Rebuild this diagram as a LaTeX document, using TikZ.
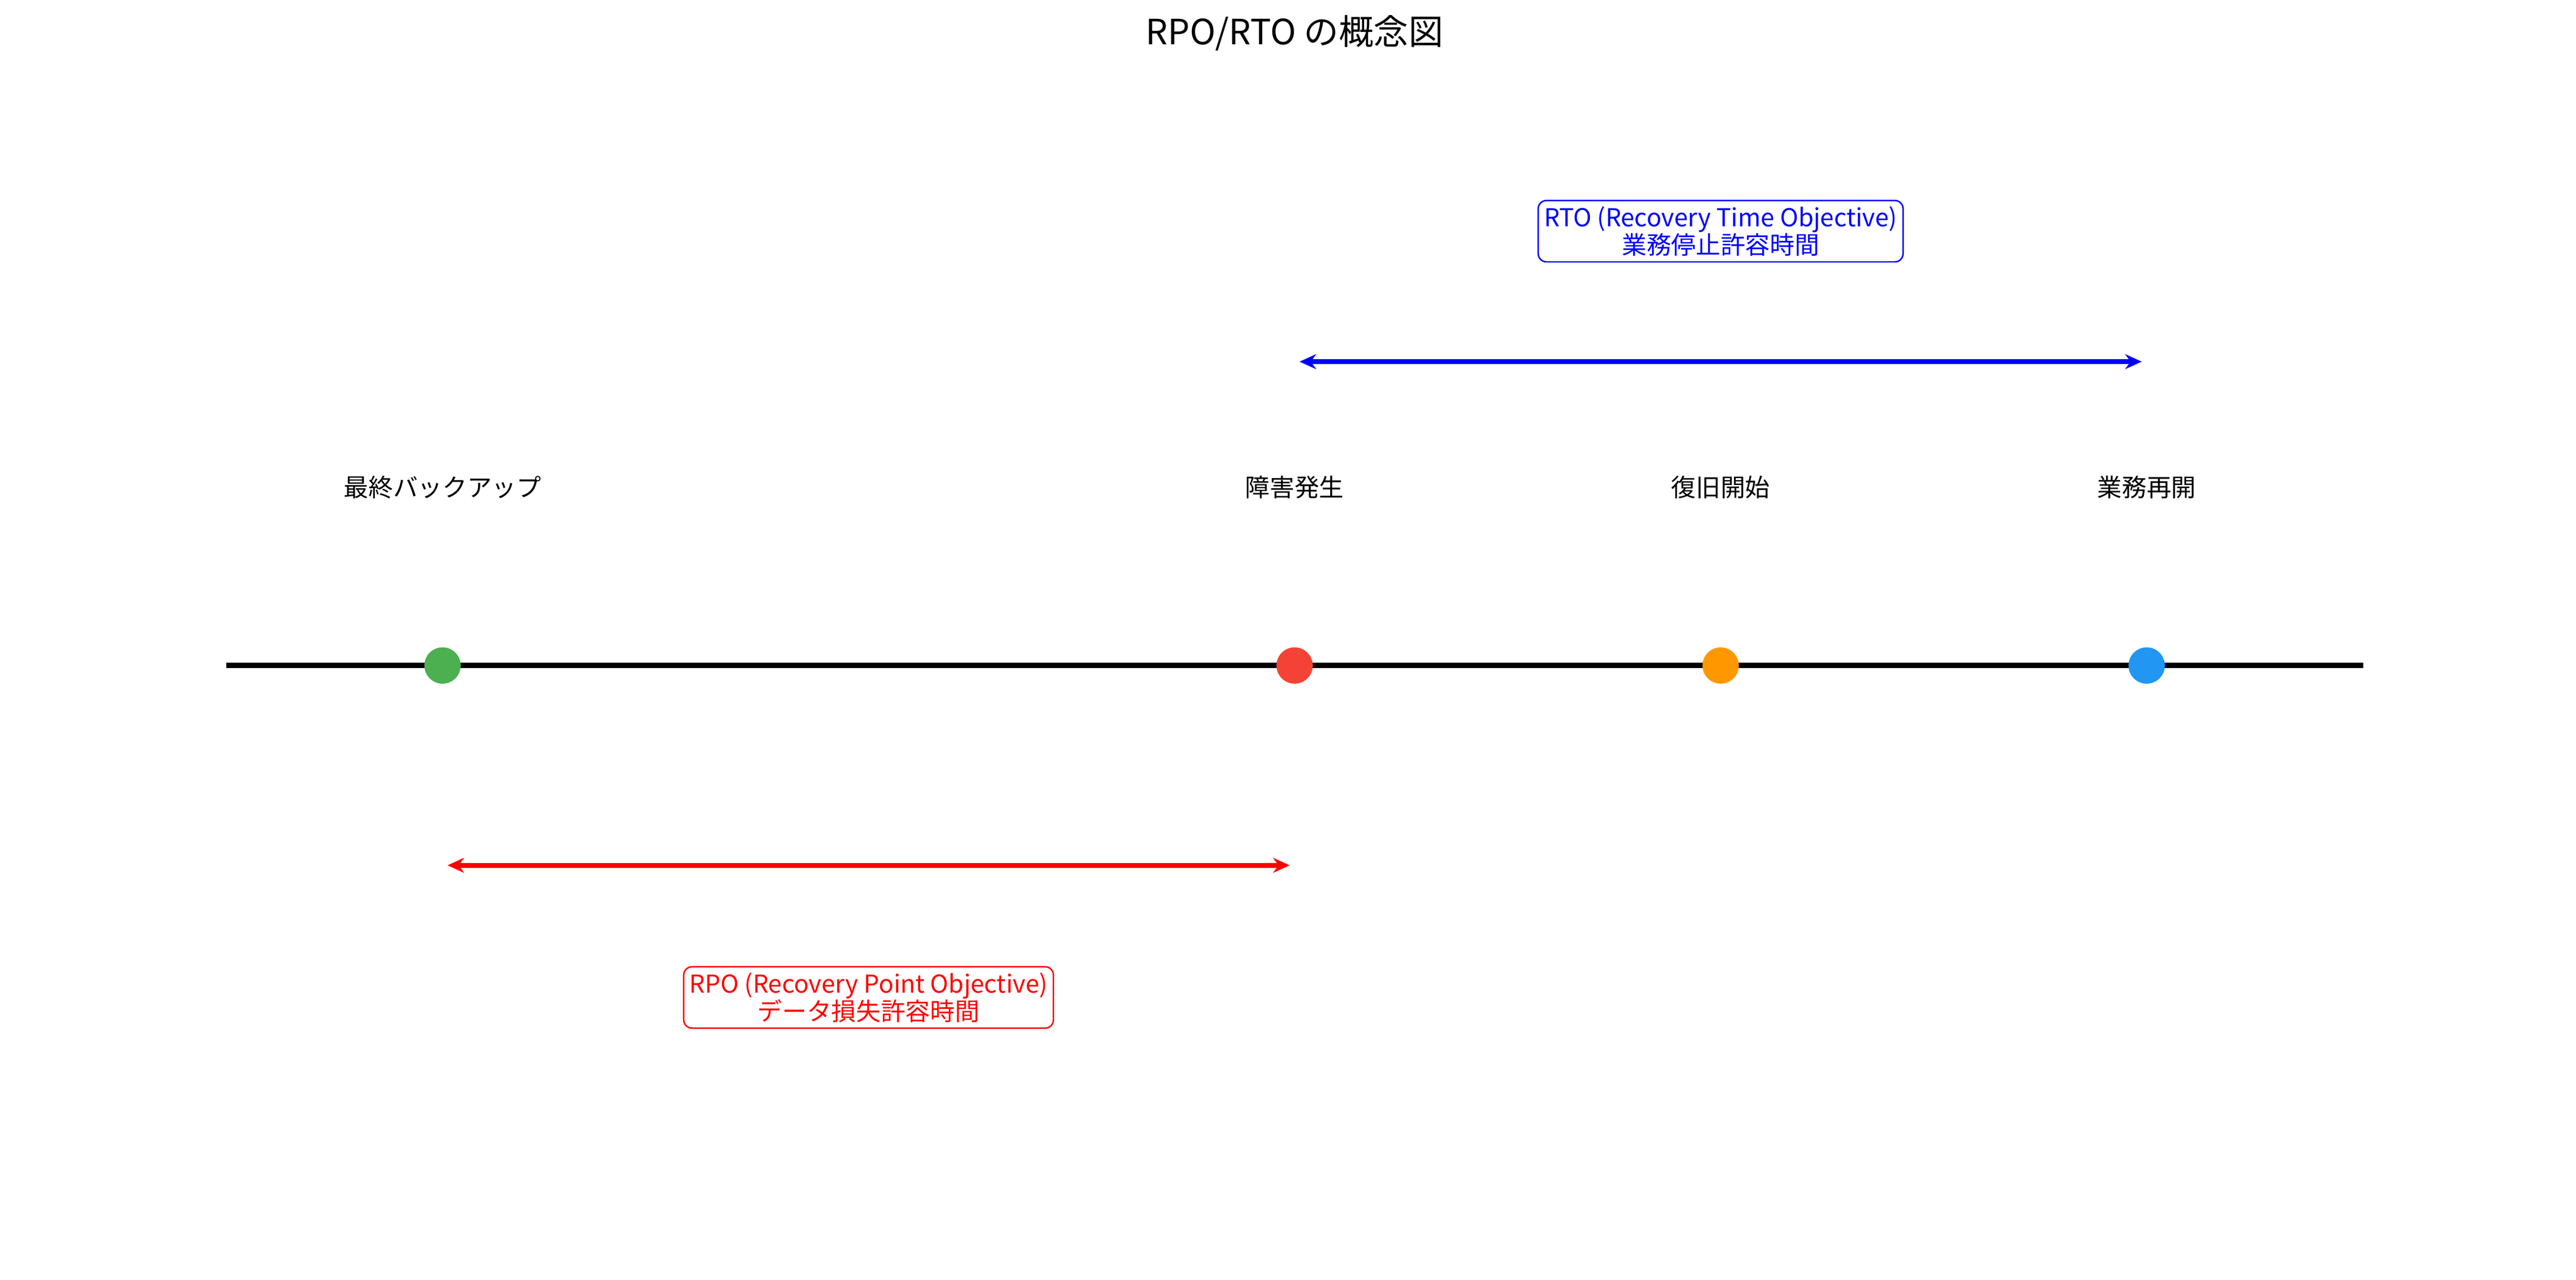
\documentclass[tikz,border=0pt]{standalone}
\usepackage{fontspec}
\setmainfont{Noto Sans CJK JP}
\usepackage{tikz}
\usetikzlibrary{arrows.meta}
\definecolor{cgreen}{HTML}{4CAF50}
\definecolor{cred}{HTML}{F44336}
\definecolor{corange}{HTML}{FF9800}
\definecolor{cblue}{HTML}{2196F3}
\tikzset{
  evlabel/.style={font=\fontsize{8.5}{10}\selectfont},
  evdot/.style={circle,inner sep=0pt,minimum size=4.4mm},
  spanarrow/.style={line width=1.6pt,{Stealth[length=2mm,width=1.8mm]}-{Stealth[length=2mm,width=1.8mm]}},
  spanbox/.style={draw,rounded corners=1mm,line width=0.5pt,align=center,inner sep=2pt,font=\fontsize{8.5}{9.5}\selectfont}
}
\begin{document}
\begin{tikzpicture}[x=0.2mm,y=-0.2mm]
    \useasboundingbox (0,0) rectangle (1560,775);
    \node[font=\fontsize{12}{14}\selectfont] (title) at (784,20) {RPO/RTO の概念図};

    % timeline
    \coordinate (tl) at (137,403);
    \coordinate (tr) at (1431,403);
    \draw[line width=1.8pt] (tl) -- (tr);
    \foreach \x/\c/\n/\txt in {268/cgreen/bk/最終バックアップ,784/cred/fail/障害発生,1042/corange/start/復旧開始,1300/cblue/resume/業務再開} {
        \node[evdot,fill=\c] (\n) at (\x,403) {};
        \node[evlabel] (\n-l) at (\x,295) {\txt};
    }

    % RTO
    \coordinate (rtoa) at (787,219);
    \coordinate (rtob) at (1297,219);
    \draw[spanarrow,blue] (rtoa) -- (rtob);
    \node[spanbox,draw=blue,text=blue] (rto) at (1042,140) {RTO (Recovery Time Objective)\\業務停止許容時間};

    % RPO
    \coordinate (rpoa) at (271,524);
    \coordinate (rpob) at (781,524);
    \draw[spanarrow,red] (rpoa) -- (rpob);
    \node[spanbox,draw=red,text=red] (rpo) at (526,604) {RPO (Recovery Point Objective)\\データ損失許容時間};
\end{tikzpicture}
\end{document}
